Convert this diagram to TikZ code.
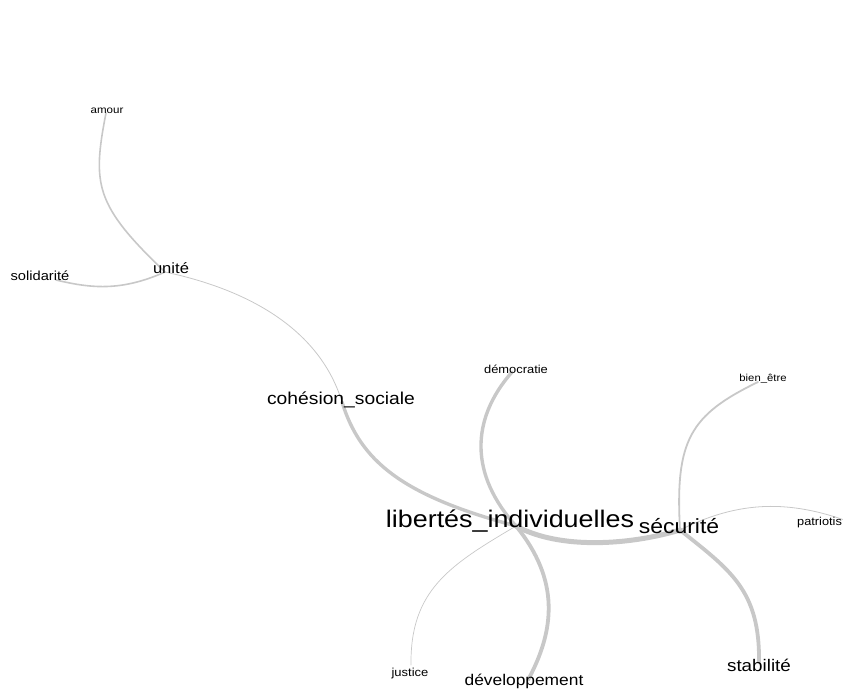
\documentclass[tikz,border=0pt]{standalone}
\usepackage{fontspec}
\setmainfont{Liberation Sans}[FakeStretch=1.12]
\usetikzlibrary{backgrounds}
\definecolor{edgegray}{HTML}{C8C8C8}
\tikzset{
  word/.style={inner sep=0pt, text=black},
  link/.style={draw=edgegray, line cap=round},
}
\begin{document}
\begin{tikzpicture}[x=1pt,y=-1pt]
\useasboundingbox (0,0) rectangle (843,691);
\clip (0,0) rectangle (843,691);
% words
\node[word, font=\fontsize{10.3}{12}\selectfont] (amour) at (107,111) {amour};
\node[word, font=\fontsize{14.8}{17}\selectfont] (unite) at (171,268) {unité};
\node[word, font=\fontsize{13.1}{15}\selectfont] (solidarite) at (40,276) {solidarité};
\node[word, font=\fontsize{17.2}{20}\selectfont] (cohesion) at (341,400) {cohésion\_sociale};
\node[word, font=\fontsize{11.5}{13}\selectfont] (democratie) at (516,369) {démocratie};
\node[word, font=\fontsize{10.1}{12}\selectfont] (bienetre) at (763,379) {bien\_être};
\node[word, font=\fontsize{24}{28}\selectfont] (libertes) at (510,521) {libertés\_individuelles};
\node[word, font=\fontsize{20.5}{24}\selectfont] (securite) at (679,526) {sécurité};
\node[word, font=\fontsize{11.4}{14}\selectfont, anchor=west] (patriotisme) at (797,523) {patriotis};
\node[word, font=\fontsize{11.6}{14}\selectfont] (justice) at (410,673) {justice};
\node[word, font=\fontsize{15.5}{18}\selectfont] (developpement) at (524,681) {développement};
\node[word, font=\fontsize{16.8}{20}\selectfont] (stabilite) at (759,665) {stabilité};
% vertex points
\coordinate (vAmour) at (106,113);
\coordinate (vUnite) at (165,272);
\coordinate (vSolid) at (56,280);
\coordinate (vCohes) at (342,402);
\coordinate (vDemo) at (512,372);
\coordinate (vBien) at (758,382);
\coordinate (vLib) at (516,526);
\coordinate (vSec) at (680,530);
\coordinate (vPatr) at (850,522);
\coordinate (vJust) at (411,665);
\coordinate (vDev) at (528,680);
\coordinate (vStab) at (759,662);
\begin{scope}[on background layer]
\draw[link, line width=1.6pt] (vAmour) .. controls (92,185) and (95,205) .. (vUnite);
\draw[link, line width=1.6pt] (vUnite) .. controls (120,292) and (90,288) .. (vSolid);
\draw[link, line width=0.8pt] (vUnite) .. controls (250,290) and (320,330) .. (vCohes);
\draw[link, line width=3.4pt] (vCohes) .. controls (360,460) and (400,495) .. (vLib);
\draw[link, line width=3.4pt] (vDemo) .. controls (470,420) and (470,475) .. (vLib);
\draw[link, line width=3.8pt] (vLib) .. controls (560,580) and (555,630) .. (vDev);
\draw[link, line width=0.7pt] (vLib) .. controls (450,565) and (410,590) .. (vJust);
\draw[link, line width=5pt] (vLib) .. controls (560,550) and (630,545) .. (vSec);
\draw[link, line width=1.8pt] (vSec) .. controls (675,440) and (690,415) .. (vBien);
\draw[link, line width=0.8pt] (vSec) .. controls (740,500) and (790,500) .. (vPatr);
\draw[link, line width=3.8pt] (vSec) .. controls (730,570) and (760,590) .. (vStab);
\end{scope}
\end{tikzpicture}
\end{document}
